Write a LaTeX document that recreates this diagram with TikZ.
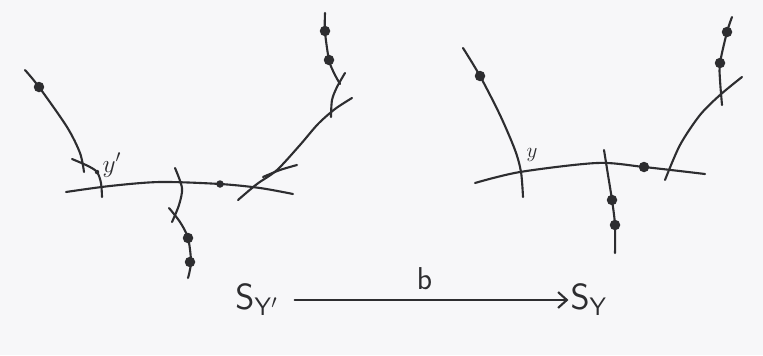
\documentclass[tikz,border=0pt]{standalone}
\usepackage{tikz}
\usetikzlibrary{positioning,arrows.meta}
\definecolor{papel}{RGB}{247,247,249}
\definecolor{tinta}{RGB}{45,45,48}
\tikzset{
  curva/.style={draw=tinta, line width=1.2pt, line cap=round},
  punto/.style={circle, fill=tinta, inner sep=0pt, minimum size=0.21cm},
  puntito/.style={circle, fill=tinta, inner sep=0pt, minimum size=0.15cm},
  etiqueta/.style={text=tinta, inner sep=1pt},
  espacio/.style={text=tinta, inner sep=1pt, font=\fontsize{22}{26}\selectfont},
}

\begin{document}
\begin{tikzpicture}[x=0.02cm, y=-0.02cm]
          \fill[papel] (0,0) rectangle (763,355);
          \draw[curva] plot[smooth] coordinates {(66,192) (110,186) (160,182) (220,184) (260,188) (293,194)};
          \draw[curva] plot[smooth] coordinates {(25,70) (39,87) (67,127) (80,153) (84,172)};
          \draw[curva] plot[smooth] coordinates {(72,159) (88,166) (97,172) (101,183) (102,197)};
          \draw[curva] plot[smooth] coordinates {(175,168) (182,188) (179,205) (172,222)};
          \draw[curva] plot[smooth] coordinates {(169,208) (180,222) (188,238) (191,262) (188,278)};
          \draw[curva] plot[smooth] coordinates {(238,200) (257,184) (277,170) (300,145) (318,124) (335,109) (352,98)};
          \draw[curva] plot[smooth] coordinates {(263,177) (280,170) (297,165)};
          \draw[curva] plot[smooth] coordinates {(325,13) (325,32) (329,60) (334,73) (340,84)};
          \draw[curva] plot[smooth] coordinates {(345,73) (337,87) (332,100) (331,117)};
          \foreach \x/\y [count=\i] in {39/87, 188/238, 190/262, 325/31, 329/60}
            \node[punto] (pi\i) at (\x,\y) {};
          \node[puntito] (pi6) at (220,184) {};
          \fill[tinta] (97,172) circle (0.045cm);
          \node[etiqueta, font=\Large] (yp) at (112,165) {$y'$};
          \draw[curva] plot[smooth] coordinates {(475,183) (520,172) (597,163) (644,167) (705,174)};
          \draw[curva] plot[smooth] coordinates {(463,48) (480,76) (500,115) (515,150) (521,172) (523,197)};
          \draw[curva] plot[smooth] coordinates {(604,150) (608,175) (612,200) (615,225) (615,253)};
          \draw[curva] plot[smooth] coordinates {(665,180) (680,145) (700,115) (720,95) (742,77)};
          \draw[curva] plot[smooth] coordinates {(732,17) (727,32) (720,63) (720,80) (722,105)};
          \foreach \x/\y [count=\i] in {480/76, 612/200, 615/225, 727/32, 720/63, 644/167}
            \node[punto] (pd\i) at (\x,\y) {};
          \node[etiqueta, font=\large] (y) at (532,155) {$y$};
          \node[espacio] (sy1) at (257,300) {$\mathsf{S}_{\mathsf{Y}'}$};
          \node[espacio] (sy) at (589,300) {$\mathsf{S}_{\mathsf{Y}}$};
          \draw[curva, -{Straight Barb[length=5pt, width=9pt]}, shorten <=8pt] (sy1) -- (sy)
            node[midway, above=4pt, etiqueta, font=\fontsize{18}{20}\sffamily] (b) {b};
\end{tikzpicture}
\end{document}
